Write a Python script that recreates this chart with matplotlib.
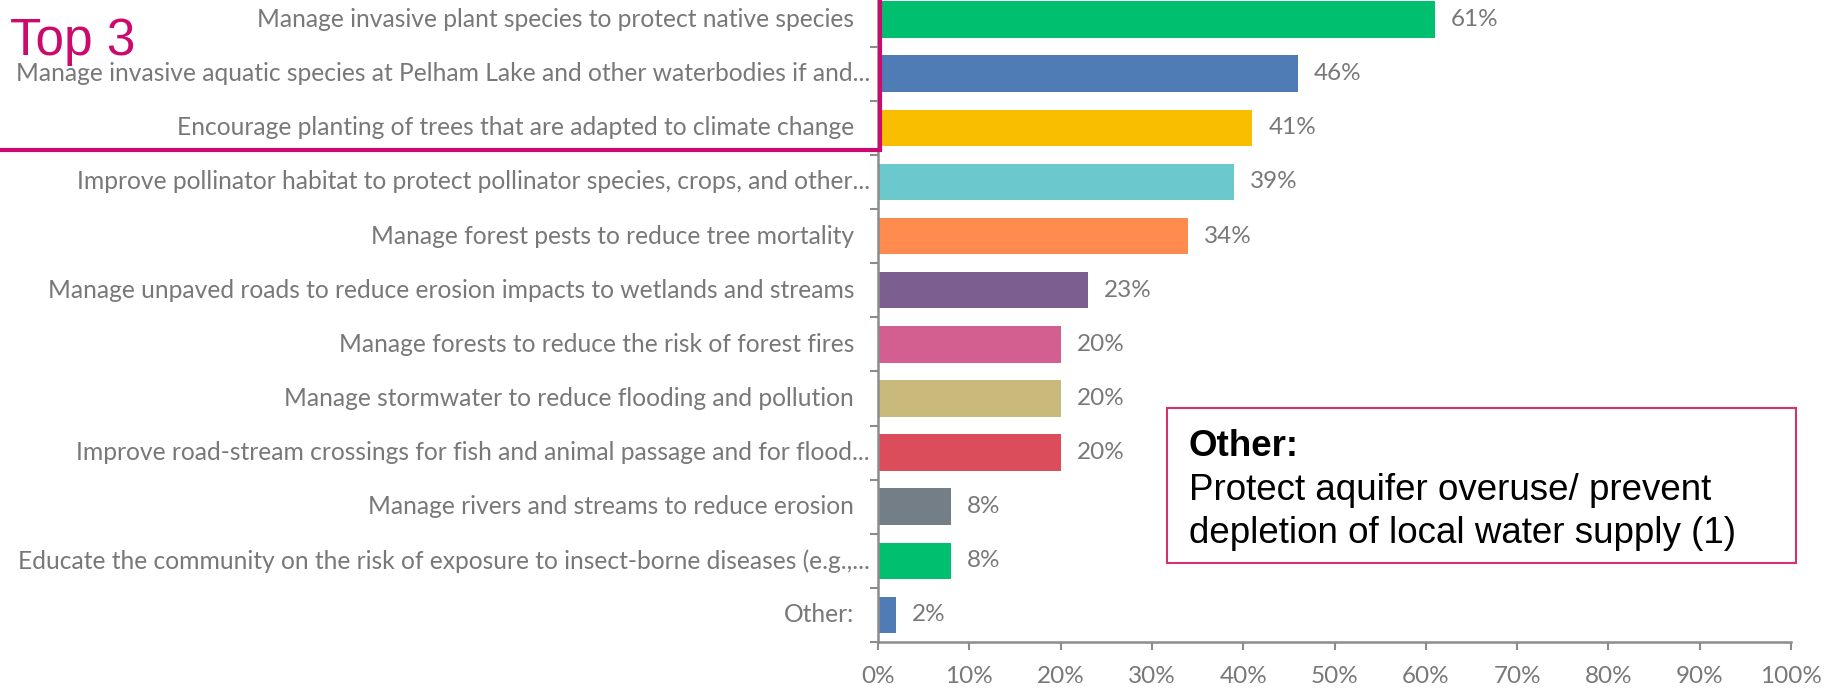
import matplotlib.pyplot as plt
from matplotlib.patches import Rectangle

plt.rcParams['font.family'] = ['Lato', 'DejaVu Sans']

categories = [
    'Manage invasive plant species to protect native species',
    'Manage invasive aquatic species at Pelham Lake and other waterbodies if and...',
    'Encourage planting of trees that are adapted to climate change',
    'Improve pollinator habitat to protect pollinator species, crops, and other...',
    'Manage forest pests to reduce tree mortality',
    'Manage unpaved roads to reduce erosion impacts to wetlands and streams',
    'Manage forests to reduce the risk of forest fires',
    'Manage stormwater to reduce flooding and pollution',
    'Improve road-stream crossings for fish and animal passage and for flood...',
    'Manage rivers and streams to reduce erosion',
    'Educate the community on the risk of exposure to insect-borne diseases (e.g.,...',
    'Other:',
]
values = [61, 46, 41, 39, 34, 23, 20, 20, 20, 8, 8, 2]
colors = ['#00bf6f', '#507cb6', '#f9be00', '#6bc8cd', '#ff8b4f', '#7d5e90',
          '#d25f90', '#c9b97a', '#dc4d5c', '#747e87', '#00bf6f', '#507cb6']
x_ticks = [0, 10, 20, 30, 40, 50, 60, 70, 80, 90, 100]

other_title = 'Other:'
other_lines = ['Protect aquifer overuse/ prevent',
               'depletion of local water supply (1)']

gray = '#787878'
axis_gray = '#8c8c8c'
magenta = '#cc0a6e'

fig = plt.figure(figsize=(18.29, 6.89), dpi=100)
W, H = 1829, 689
ax = fig.add_axes([878 / W, 1 - 642 / H, (1791 - 878) / W, 649.5 / H])

y = list(range(len(categories)))
ax.barh(y, values, height=0.675, color=colors)

# value labels
for i, v in enumerate(values):
    ax.annotate(f'{v}%', (v, i), xytext=(16, 0), textcoords='offset pixels',
                va='center', ha='left', fontsize=17.5, color=gray)

# category labels, truncated ones sit closer to the axis
for i, c in enumerate(categories):
    off = -8 if c.endswith('...') else -24
    ax.annotate(c, (0, i), xycoords=('axes fraction', 'data'),
                xytext=(off, 0), textcoords='offset pixels',
                va='center', ha='right', fontsize=17.7, color=gray)

ax.set_xlim(0, 100)
ax.set_ylim(len(categories) - 0.5, -0.5)
ax.set_xticks(x_ticks)
ax.set_xticklabels([f'{t}%' for t in x_ticks], fontsize=17.5, color=gray)
ax.set_yticks([])
ax.set_yticks([i + 0.5 for i in range(-1, len(categories))], minor=True)
ax.tick_params(axis='y', which='minor', length=6, width=1.5, color=axis_gray)
ax.tick_params(axis='x', length=6, width=1.5, color=axis_gray, pad=11)

for s in ['top', 'right']:
    ax.spines[s].set_visible(False)
for s in ['left', 'bottom']:
    ax.spines[s].set_color(axis_gray)
    ax.spines[s].set_linewidth(1.8)

# "Top 3" highlight box
fig.patches.append(Rectangle((-10 / W, 1 - 150 / H), 890 / W, 170 / H,
                             transform=fig.transFigure, fill=False,
                             edgecolor=magenta, linewidth=3, zorder=5))
fig.text(10 / W, 1 - 55 / H, 'Top 3', fontsize=37, color=magenta,
         family='Liberation Sans', va='baseline', ha='left')

# "Other" note box
fig.patches.append(Rectangle((1167 / W, 1 - 563 / H), (1796 - 1167) / W, (563 - 408) / H,
                             transform=fig.transFigure, fill=False,
                             edgecolor='#d4326f', linewidth=1.5, zorder=5))
fig.text(1189 / W, 1 - 456 / H, other_title, fontsize=26.5, fontweight='bold',
         family='Liberation Sans', va='baseline', ha='left')
for k, line in enumerate(other_lines):
    fig.text(1189 / W, 1 - (500 + 43 * k) / H, line, fontsize=26.5,
             family='Liberation Sans', va='baseline', ha='left')

fig.savefig('out.png', dpi=100)
